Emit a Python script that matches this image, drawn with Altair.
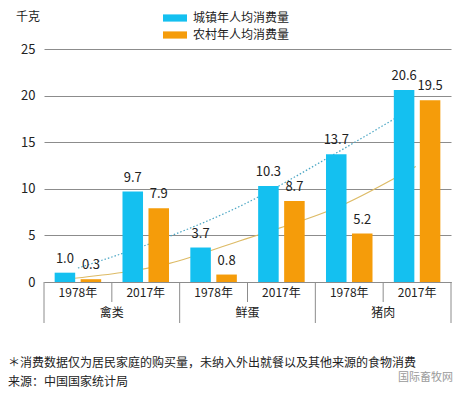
import altair as alt
import pandas as pd

# ---- data ----
groups = ["禽类", "鲜蛋", "猪肉"]
years = ["1978年", "2017年"]
series_names = ["城镇年人均消费量", "农村年人均消费量"]
urban = [1.0, 9.7, 3.7, 10.3, 13.7, 20.6]
rural = [0.3, 7.9, 0.8, 8.7, 5.2, 19.5]

# trend lines (position in category units 0..6, value)
trend_urban_pos = [0.5, 0.8, 1.85, 2.88, 4.30, 5.14, 5.3]
trend_urban_val = [1.5, 2.2, 4.9, 8.1, 13.8, 17.4, 18.1]
trend_rural_pos = [0.45, 1.85, 2.88, 3.18, 4.35, 5.48]
trend_rural_val = [0.4, 2.0, 4.4, 5.1, 8.1, 12.4]

y_ticks = [0, 5, 10, 15, 20, 25]

BLUE = "#14C0F0"
ORANGE = "#F59C0A"
FONT = "Noto Sans CJK SC"

cats = [f"{g}|{y}" for g in groups for y in years]
rows = []
for i, c in enumerate(cats):
    rows.append({"cat": c, "series": series_names[0], "value": urban[i]})
    rows.append({"cat": c, "series": series_names[1], "value": rural[i]})
bars_df = pd.DataFrame(rows)

trend_df = pd.DataFrame(
    [{"pos": p, "val": v, "s": "u"} for p, v in zip(trend_urban_pos, trend_urban_val)]
    + [{"pos": p, "val": v, "s": "r"} for p, v in zip(trend_rural_pos, trend_rural_val)]
)

qx = alt.Scale(domain=[0, 6], nice=False, zero=False)
yscale = alt.Scale(domain=[0, 25], nice=False)

trend_u = alt.Chart(trend_df[trend_df.s == "u"]).mark_line(
    strokeDash=[1.5, 2], strokeWidth=1.2, color="#4BA6C4", interpolate="monotone"
).encode(x=alt.X("pos:Q", scale=qx, axis=None), y=alt.Y("val:Q", scale=yscale))
trend_r = alt.Chart(trend_df[trend_df.s == "r"]).mark_line(
    strokeWidth=1.2, color="#DDBB66", interpolate="monotone"
).encode(x=alt.X("pos:Q", scale=qx, axis=None), y=alt.Y("val:Q", scale=yscale))

band_scale = alt.Scale(paddingInner=0, paddingOuter=0)
xband = alt.X(
    "cat:N",
    sort=cats,
    scale=band_scale,
    axis=alt.Axis(
        title=None,
        labelExpr="split(datum.label, '|')[1]",
        labelAngle=0,
        ticks=False,
        domainColor="#8c8c8c",
        labelPadding=5,
        labelFontSize=12,
        labelColor="#222222",
        labelFont=FONT,
    ),
)
xband_noaxis = alt.X("cat:N", sort=cats, scale=band_scale, axis=None)
xoff = alt.XOffset(
    "series:N", sort=series_names, scale=alt.Scale(paddingInner=0.21, paddingOuter=0.41)
)

bars = alt.Chart(bars_df).mark_bar().encode(
    x=xband,
    xOffset=xoff,
    y=alt.Y(
        "value:Q",
        scale=yscale,
        axis=alt.Axis(
            title=None,
            values=y_ticks,
            grid=True,
            gridColor="#8c8c8c",
            domain=False,
            ticks=False,
            labelPadding=9,
            labelFontSize=13,
            labelColor="#222222",
            labelFont=FONT,
        ),
    ),
    color=alt.Color(
        "series:N",
        sort=series_names,
        scale=alt.Scale(domain=series_names, range=[BLUE, ORANGE]),
        legend=alt.Legend(
            title=None,
            orient="none",
            legendX=125,
            legendY=-37,
            padding=0,
            symbolType="M-2,-0.6H2V0.6H-2Z",
            symbolSize=144,
            symbolStrokeWidth=0,
            labelOffset=12,
            labelFontSize=12,
            labelFont=FONT,
            labelColor="#222222",
            labelBaseline="middle",
            rowPadding=5,
        ),
    ),
)

labels = alt.Chart(bars_df).mark_text(
    baseline="bottom", dy=-7, fontSize=13, font=FONT, color="#222222"
).encode(x=xband_noaxis, xOffset=xoff, y=alt.Y("value:Q", scale=yscale), text=alt.Text("value:Q", format=".1f"))

long_sep = alt.Chart(pd.DataFrame({"pos": [0, 2, 4, 6]})).mark_rule(
    color="#8c8c8c", strokeWidth=1
).encode(x=alt.X("pos:Q", scale=qx, axis=None), y=alt.value(233), y2=alt.value(274))
short_sep = alt.Chart(pd.DataFrame({"pos": [1, 3, 5]})).mark_rule(
    color="#8c8c8c", strokeWidth=1
).encode(x=alt.X("pos:Q", scale=qx, axis=None), y=alt.value(233), y2=alt.value(253))
group_lbl = alt.Chart(pd.DataFrame({"pos": [1, 3, 5], "g": groups})).mark_text(
    fontSize=12, font=FONT, color="#222222"
).encode(x=alt.X("pos:Q", scale=qx, axis=None), y=alt.value(264), text="g:N")


def note(txt, x, y, size=12, color="#222222", align="left"):
    return alt.Chart(pd.DataFrame({"t": [txt]})).mark_text(
        align=align, baseline="middle", fontSize=size, font=FONT, color=color
    ).encode(x=alt.value(x), y=alt.value(y), text="t:N")


unit = note("千克", -16, -32, align="center")
foot1 = note("＊消费数据仅为居民家庭的购买量，未纳入外出就餐以及其他来源的食物消费", -36, 314)
foot2 = note("来源：中国国家统计局", -36, 333)
mark = note("国际畜牧网", 354, 329, size=11, color="#9a9a9a")

chart = (
    alt.layer(trend_u, trend_r, bars, labels, long_sep, short_sep, group_lbl, unit, foot1, foot2, mark)
    .resolve_scale(x="independent")
    .properties(
        width=407,
        height=233,
        autosize=alt.AutoSizeParams(type="none"),
        padding={"left": 36, "top": 41, "right": 7, "bottom": 107},
    )
    .configure_view(stroke=None)
)

chart.save("out.html", embed_options={"renderer": "svg", "actions": False})
